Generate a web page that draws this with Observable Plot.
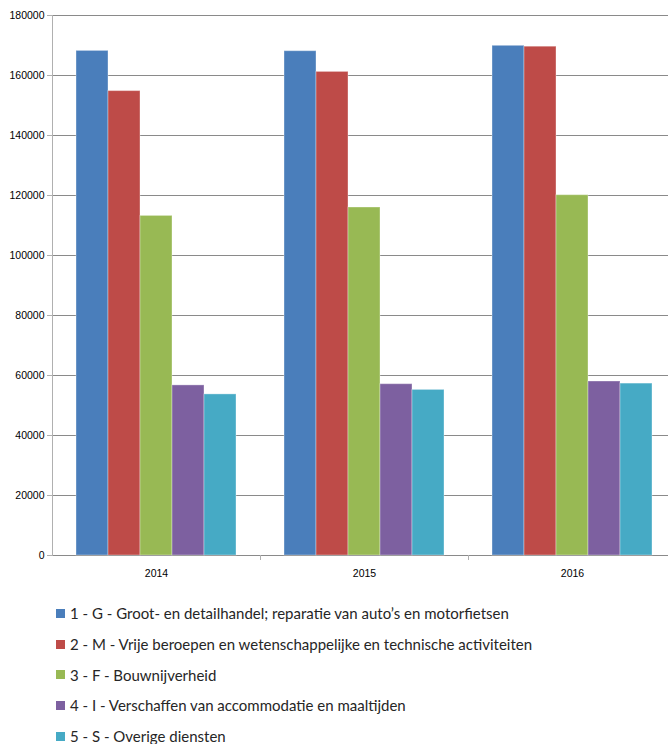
<!DOCTYPE html>
<html>
<head>
<meta charset="utf-8">
<script src="https://cdn.jsdelivr.net/npm/d3@7"></script>
<script src="https://cdn.jsdelivr.net/npm/@observablehq/plot@0.6"></script>
<style>
  html, body { margin: 0; padding: 0; background: #fff; }
  #chart svg { display: block; }
  #legend { font-family: "Lato", "Open Sans", sans-serif; font-size: 15px; color: #262626; margin-top: 8px; }
  .row { display: flex; align-items: center; height: 30.7px; padding-left: 56px; }
  .sw { width: 9px; height: 9px; margin-right: 5px; flex: none; }
</style>
</head>
<body>
<div id="chart"></div>
<div id="legend"></div>
<script>
const years = ["2014", "2015", "2016"];
const seriesNames = [
  "1 - G - Groot- en detailhandel; reparatie van auto’s en motorfietsen",
  "2 - M - Vrije beroepen en wetenschappelijke en technische activiteiten",
  "3 - F - Bouwnijverheid",
  "4 - I - Verschaffen van accommodatie en maaltijden",
  "5 - S - Overige diensten"
];
const seriesColors = ["#4a7ebb", "#be4b48", "#98b954", "#7d60a0", "#46aac5"];
const valuesG = [168200, 168100, 169900];
const valuesM = [154800, 161200, 169600];
const valuesF = [113200, 116000, 120100];
const valuesI = [56700, 57100, 58000];
const valuesS = [53700, 55200, 57300];
const yTicks = [0, 20000, 40000, 60000, 80000, 100000, 120000, 140000, 160000, 180000];

const allValues = [valuesG, valuesM, valuesF, valuesI, valuesS];
const data = [];
seriesNames.forEach((s, i) => years.forEach((y, j) => data.push({year: y, series: s, value: allValues[i][j]})));

const chart = Plot.plot({
  width: 668,
  height: 590,
  marginLeft: 52,
  marginRight: -8,
  marginTop: 15,
  marginBottom: 35,
  style: {fontFamily: "Liberation Sans, Arial, sans-serif", fontSize: "10.5px", color: "#000"},
  fx: {domain: years, padding: 0, label: null},
  x: {domain: seriesNames, paddingInner: 0, paddingOuter: 0.75, axis: null},
  y: {domain: [0, 180000], label: null},
  color: {domain: seriesNames, range: seriesColors},
  marks: [
    Plot.gridY(yTicks, {stroke: "#8a8a8a", strokeOpacity: 1, strokeWidth: 1.2}),
    Plot.barY(data, {fx: "year", x: "series", y: "value", fill: "series", stroke: "#ffffff", strokeOpacity: 0.35, strokeWidth: 1}),
    Plot.frame({anchor: "left", facetAnchor: "left", stroke: "#b0b0b0"}),
    Plot.ruleX(years.slice(1), {fx: d => d, x: () => seriesNames[0], dx: -40, y1: 0, y2: 0, insetBottom: -5, stroke: "#b0b0b0"}),
    Plot.axisY(yTicks, {tickSize: 5, tickPadding: 3, tickFormat: d => String(d), stroke: "#b0b0b0", label: null}),
    Plot.axisFx({anchor: "bottom", tickSize: 0, tickPadding: 14, label: null})
  ]
});
document.getElementById("chart").appendChild(chart);

const legend = document.getElementById("legend");
seriesNames.forEach((s, i) => {
  const row = document.createElement("div");
  row.className = "row";
  const sw = document.createElement("span");
  sw.className = "sw";
  sw.style.background = seriesColors[i];
  const t = document.createElement("span");
  t.textContent = s;
  row.appendChild(sw);
  row.appendChild(t);
  legend.appendChild(row);
});
</script>
</body>
</html>
